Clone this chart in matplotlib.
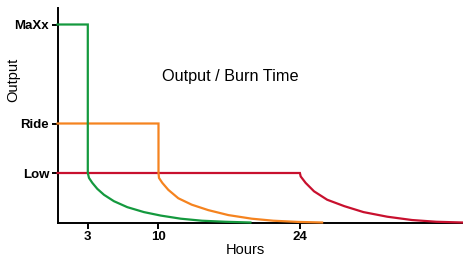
import matplotlib
matplotlib.use("Agg")
import matplotlib.pyplot as plt

# Levels
level_names = ["Low", "Ride", "MaXx"]
level_values = [1, 2, 4]
x_ticks = [3, 10, 24]

# Green (MaXx) series: hours, output
green_x = [0, 3, 3, 3.12, 3.45, 3.94, 4.60, 5.59, 6.91, 8.56, 10.22, 12.2, 14.3, 16.6, 19.1]
green_y = [4, 4, 1, 0.90, 0.80, 0.68, 0.56, 0.43, 0.31, 0.21, 0.14, 0.077, 0.036, 0.015, 0.0]
# Orange (Ride)
orange_x = [0, 10, 10, 10.05, 10.38, 10.97, 11.96, 13.29, 14.93, 16.91, 19.23, 21.37, 23.8, 26.2]
orange_y = [2, 2, 1, 0.90, 0.80, 0.66, 0.49, 0.36, 0.25, 0.15, 0.077, 0.036, 0.012, 0.0]
# Red (Low)
red_x = [0, 24, 24.08, 24.57, 25.4, 26.7, 28.4, 30.3, 32.65, 35.1, 37.5, 40.1]
red_y = [1, 1, 0.93, 0.80, 0.63, 0.46, 0.33, 0.21, 0.117, 0.05, 0.015, 0.0]

green = "#14993e"
orange = "#f5831f"
red = "#c8102e"

fig = plt.figure(figsize=(4.63, 2.56), dpi=100)
ax = fig.add_axes([57.5 / 463, 1 - 222.5 / 256, 1 - 57.5 / 463, 214.5 / 256])
ax.set_xlim(0, 40.15)
ax.set_ylim(0, 214.5 / 49.5)

lw = 1.6
ax.plot(red_x, red_y, color=red, lw=lw, clip_on=False, zorder=3, solid_joinstyle="miter")
ax.plot(orange_x, orange_y, color=orange, lw=lw, clip_on=False, zorder=4, solid_joinstyle="miter")
ax.plot(green_x, green_y, color=green, lw=lw, clip_on=False, zorder=5, solid_joinstyle="miter")

for s in ["top", "right"]:
    ax.spines[s].set_visible(False)
for s in ["left", "bottom"]:
    ax.spines[s].set_linewidth(1.4)
    ax.spines[s].set_color("black")
    ax.spines[s].set_zorder(2)

ax.set_yticks(level_values)
ax.set_yticklabels(level_names, fontweight="bold", fontsize=9.5, family="Liberation Sans")
ax.set_xticks(x_ticks)
ax.set_xticklabels([str(t) for t in x_ticks], fontweight="bold", fontsize=9.5, family="Liberation Sans")
ax.tick_params(axis="both", direction="out", length=4, width=1.4, pad=2)

fig.text(13 / 463, 1 - 80 / 256, "Output", rotation=90, ha="center", va="center",
         fontsize=10.5, family="Liberation Sans")
fig.text(245.5 / 463, 1 - 250 / 256, "Hours", ha="center", va="center",
         fontsize=10.5, family="Liberation Sans")
fig.text(230 / 463, 1 - 77 / 256, "Output / Burn Time", ha="center", va="center",
         fontsize=11.7, family="Liberation Sans")

fig.savefig("out.png", dpi=100)
